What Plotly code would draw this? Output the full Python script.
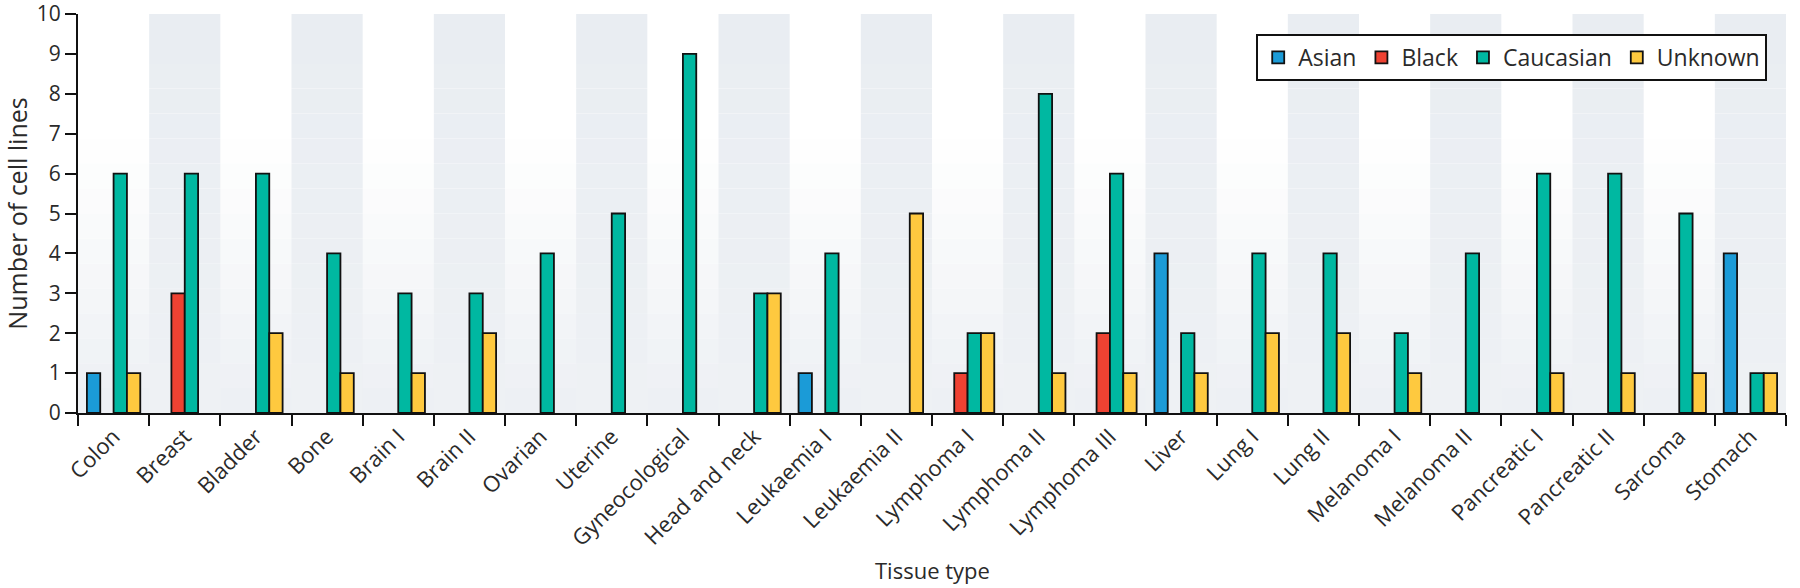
import plotly.graph_objects as go

tissues = [
    "Colon", "Breast", "Bladder", "Bone", "Brain I", "Brain II", "Ovarian",
    "Uterine", "Gyneocological", "Head and neck", "Leukaemia I", "Leukaemia II",
    "Lymphoma I", "Lymphoma II", "Lymphoma III", "Liver", "Lung I", "Lung II",
    "Melanoma I", "Melanoma II", "Pancreatic I", "Pancreatic II", "Sarcoma", "Stomach",
]
asian = [1, 0, 0, 0, 0, 0, 0, 0, 0, 0, 1, 0, 0, 0, 0, 4, 0, 0, 0, 0, 0, 0, 0, 4]
black = [0, 3, 0, 0, 0, 0, 0, 0, 0, 0, 0, 0, 1, 0, 2, 0, 0, 0, 0, 0, 0, 0, 0, 0]
caucasian = [6, 6, 6, 4, 3, 3, 4, 5, 9, 3, 4, 0, 2, 8, 6, 2, 4, 4, 2, 4, 6, 6, 5, 1]
unknown = [1, 0, 2, 1, 1, 2, 0, 0, 0, 3, 0, 5, 2, 1, 1, 1, 2, 2, 1, 0, 1, 1, 1, 1]

series = [
    ("Asian", asian, "#1b9bd7"),
    ("Black", black, "#ee4232"),
    ("Caucasian", caucasian, "#00b8a1"),
    ("Unknown", unknown, "#fec93f"),
]

FONT = "Open Sans"
TEXT = "#2a2a2a"


def mix(c0, c1, t):
    r, g, b = (round(a + (b - a) * t) for a, b in zip(c0, c1))
    return f"rgb({r},{g},{b})"


fig = go.Figure()
for name, values, color in series:
    fig.add_trace(
        go.Bar(
            x=tissues,
            y=[v if v > 0 else None for v in values],
            name=name,
            marker=dict(color=color, line=dict(color="#111111", width=1.8)),
        )
    )

# soft vertical gradient behind everything, darker alternating columns on top
shapes = []
n_strips = 16
for k in range(n_strips):
    t = k / (n_strips - 1)
    y1 = 1 - k / n_strips
    y0 = 1 - (k + 1) / n_strips
    shapes.append(
        dict(
            type="rect", xref="paper", yref="paper", x0=0, x1=1, y0=y0, y1=y1,
            fillcolor=mix((255, 255, 255), (237, 240, 244), max(0.0, t - 0.3) / 0.7),
            line=dict(width=0), layer="below",
        )
    )
    for i in range(1, len(tissues), 2):
        shapes.append(
            dict(
                type="rect", xref="x", yref="paper", x0=i - 0.5, x1=i + 0.5, y0=y0, y1=y1,
                fillcolor=mix((233, 237, 242), (238, 241, 244), t),
                line=dict(width=0), layer="below",
            )
        )

fig.update_layout(
    width=1800,
    height=588,
    margin=dict(l=78, r=14, t=14, b=175),
    plot_bgcolor="white",
    paper_bgcolor="white",
    barmode="group",
    bargap=0.25,
    bargroupgap=0,
    shapes=shapes,
    font=dict(family=FONT, size=21, color=TEXT),
    legend=dict(
        orientation="h",
        x=0.989, xanchor="right",
        y=0.95, yanchor="top",
        bgcolor="white",
        bordercolor="#111111",
        borderwidth=2,
        font=dict(size=23, color=TEXT),
        itemwidth=30,
        tracegroupgap=0,
    ),
    annotations=[
        dict(
            text="Tissue type", xref="paper", yref="paper", x=0.5, y=-0.393,
            showarrow=False, font=dict(size=22, color=TEXT),
            xanchor="center", yanchor="middle",
        )
    ],
)
fig.update_xaxes(
    showline=True, linecolor="#111111", linewidth=2,
    ticks="outside", tickson="boundaries", ticklen=11, tickwidth=2, tickcolor="#111111",
    tickangle=-45, showgrid=False, automargin=False,
    tickfont=dict(size=22),
)
fig.update_yaxes(
    range=[0, 10], dtick=1,
    showline=True, linecolor="#111111", linewidth=2,
    ticks="outside", ticklen=11, tickwidth=2, tickcolor="#111111",
    showgrid=False, zeroline=False, automargin=False,
    ticklabeloverflow="allow",
    tickfont=dict(size=21),
    title=dict(text="Number of cell lines", font=dict(size=25), standoff=6),
)

# drop the default 8px page margin so the figure fills the window exactly
fig.write_html(
    "out.html",
    config={"displayModeBar": False},
    post_script="document.body.style.margin = '0';",
)
